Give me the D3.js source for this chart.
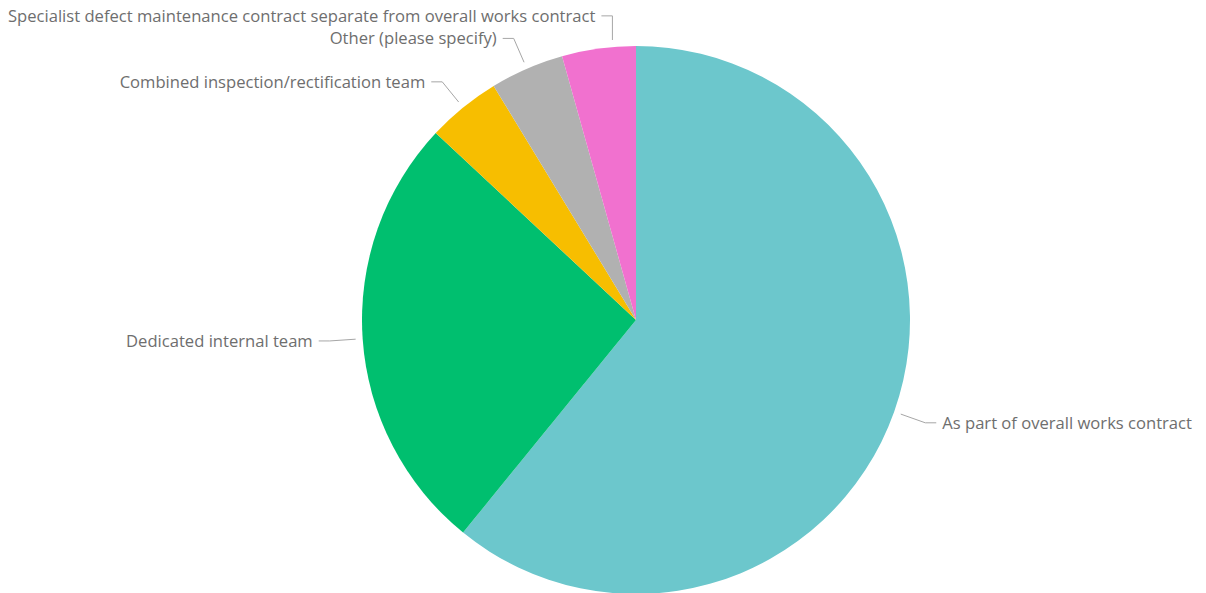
<!DOCTYPE html>
<html>
<head>
<meta charset="utf-8">
<script src="https://cdn.jsdelivr.net/npm/d3@7"></script>
<style>
  html, body { margin: 0; padding: 0; background: #ffffff; }
  svg { display: block; }
  text { font-family: "Segoe UI", "Open Sans", "Noto Sans", sans-serif; }
</style>
</head>
<body>
<svg id="chart" width="1206" height="593"></svg>
<script>
const categories = [
  "As part of overall works contract",
  "Dedicated internal team",
  "Combined inspection/rectification team",
  "Other (please specify)",
  "Specialist defect maintenance contract separate from overall works contract"
];
const values = [14, 6, 1, 1, 1];
const colors = ["#6CC7CC", "#00BF6F", "#F7BE00", "#B1B1B1", "#F171CF"];

const W = 1206, H = 593;
const cx = 636, cy = 320, R = 274;
const margin = 8;
const svg = d3.select("#chart");
const g = svg.append("g").attr("transform", `translate(${cx},${cy})`);

const data = categories.map((c, i) => ({ cat: c, value: values[i], color: colors[i] }));
const pie = d3.pie().sort(null).value(d => d.value);
const arcs = pie(data);
const arc = d3.arc().innerRadius(0).outerRadius(R);

g.selectAll("path.slice").data(arcs).enter().append("path")
  .attr("class", "slice")
  .attr("d", arc)
  .attr("fill", d => d.data.color);

const R1 = R + 7, R2 = R + 33;
const hseg = 11, gap = 6;
arcs.forEach(a => {
  const m = (a.startAngle + a.endAngle) / 2;
  let sx = R1 * Math.sin(m), sy = -R1 * Math.cos(m);
  let ex = R2 * Math.sin(m), ey = -R2 * Math.cos(m);
  const right = Math.sin(m) >= 0;
  const t = g.append("text")
    .attr("y", ey)
    .attr("dy", "0.35em")
    .attr("text-anchor", right ? "start" : "end")
    .attr("font-size", 16.6)
    .attr("fill", "#6e6e6e")
    .text(a.data.cat);
  const w = t.node().getComputedTextLength();
  let hx = ex + (right ? hseg : -hseg);
  let tx = hx + (right ? gap : -gap);
  if (!right && cx + tx - w < margin) {
    // label would overflow the left edge: shift it right, leader drops vertically
    const shift = margin - (cx + tx - w);
    tx += shift; hx += shift; ex += shift;
    sx = ex; sy = -Math.sqrt(R1 * R1 - ex * ex);
  }
  t.attr("x", tx);
  g.insert("polyline", "text")
    .attr("points", `${sx},${sy} ${ex},${ey} ${hx},${ey}`)
    .attr("fill", "none")
    .attr("stroke", "#a6a6a6")
    .attr("stroke-width", 1);
});
</script>
</body>
</html>
